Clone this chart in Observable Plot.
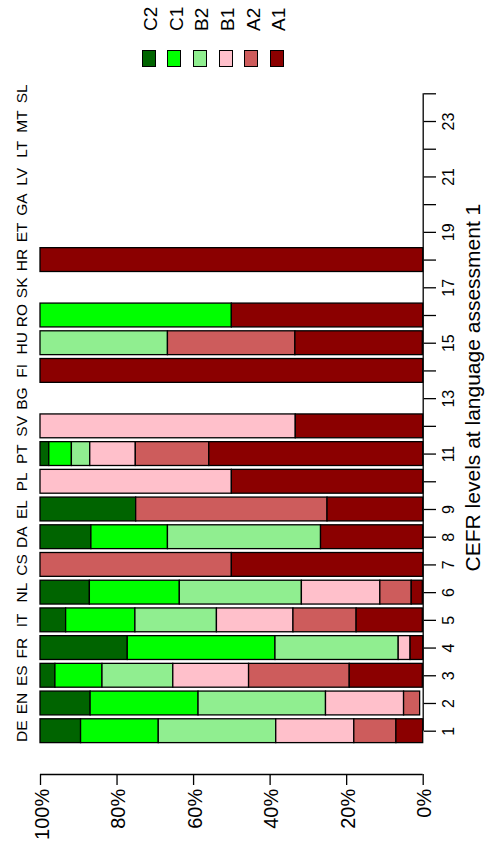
<!DOCTYPE html>
<html><head><meta charset="utf-8">
<script src="https://cdn.jsdelivr.net/npm/d3@7"></script>
<script src="https://cdn.jsdelivr.net/npm/@observablehq/plot@0.6"></script>
<style>
html,body{margin:0;padding:0;background:#fff;}
#legend{position:relative;width:491px;height:75px;font-family:"Liberation Sans",Arial,sans-serif;color:#000;}
#chart svg{display:block;}
</style></head><body>
<div id="legend"></div>
<div id="chart"></div>
<script>
const countries = ["DE","EN","ES","FR","IT","NL","CS","DA","EL","PL","PT","SV","BG","FI","HU","RO","SK","HR","ET","GA","LV","LT","MT","SL"];
const levels = ["C2","C1","B2","B1","A2","A1"];
const levelColors = ["#006400","#00FF00","#90EE90","#FFC0CB","#CD5C5C","#8B0000"];
// percentages per level, in country order
const C2 = [10.6,13.1,3.9,22.8,6.7,12.9,0,13.3,25,0,2.3,0,0,0,0,0,0,0,0,0,0,0,0,0];
const C1 = [20.3,28.2,12.3,38.6,18.1,23.5,0,20,0,0,5.9,0,0,0,0,50,0,0,0,0,0,0,0,0];
const B2 = [30.7,33.3,18.5,32.2,21.3,31.9,0,40,0,0,4.8,0,0,0,33.3,0,0,0,0,0,0,0,0,0];
const B1 = [20.4,20.4,19.8,3.1,20.0,20.5,0,0,0,50,11.9,66.7,0,0,0,0,0,0,0,0,0,0,0,0];
const A2 = [11.0,4.2,26.3,0,16.5,8.2,50,0,50,0,19.2,0,0,0,33.3,0,0,0,0,0,0,0,0,0];
const A1 = [7.0,0,19.1,3.3,17.3,2.9,50,26.7,25,50,55.9,33.3,0,100,33.3,50,0,100,0,0,0,0,0,0];
const pctTicks = [0,20,40,60,80,100];
const catTicks = d3.range(1,25);
const catLabels = [1,2,3,4,5,6,7,8,9,11,13,15,17,19,21,23];
const axisTitle = "CEFR levels at language assessment 1";

const series = {C2, C1, B2, B1, A2, A1};
const segments = [];
countries.forEach((c, i) => {
  let cum = 0;
  levels.forEach(lv => {
    const v = series[lv][i];
    if (v > 0) segments.push({country: c, k: i + 1, level: lv, x1: 100 - cum, x2: 100 - cum - v});
    cum += v;
  });
});

// Legend (HTML, above the SVG)
const legendEl = document.getElementById("legend");
levels.forEach((lv, i) => {
  const cx = 148.7 + i * 25.6;
  const sw = document.createElement("div");
  sw.style.cssText = `position:absolute;left:${cx - 7}px;top:50px;width:14px;height:16.5px;box-sizing:border-box;border:1.5px solid #000;background:${levelColors[i]};`;
  legendEl.appendChild(sw);
  const lab = document.createElement("div");
  lab.textContent = lv;
  lab.style.cssText = `position:absolute;left:${cx + 1.4}px;top:31px;font-size:19px;line-height:19px;white-space:nowrap;transform-origin:0 0;transform:rotate(-90deg) translate(0,-50%);`;
  legendEl.appendChild(lab);
});

const AXIS_BASE = -0.5626;
const font = "'Liberation Sans', Arial, Helvetica, sans-serif";
const chart = Plot.plot({
  width: 491, height: 770,
  marginLeft: 40, marginRight: 68.3, marginTop: 18.3, marginBottom: 71,
  x: {domain: [0, 100], reverse: true, label: null},
  y: {domain: [AXIS_BASE, 24], label: null},
  color: {domain: levels, range: levelColors},
  style: {fontFamily: font, fontSize: "16px", background: "white", color: "black"},
  marks: [
    Plot.rect(segments, {x1: "x1", x2: "x2", y1: d => d.k - 0.43, y2: d => d.k + 0.43, fill: "level", stroke: "black", strokeWidth: 1.3}),
    Plot.ruleY([AXIS_BASE], {x1: 0, x2: 100, stroke: "black", strokeWidth: 1.3}),
    Plot.axisX({ticks: pctTicks, tickSize: 11, tickFormat: () => "", strokeWidth: 1.3, label: null}),
    Plot.text(pctTicks, {x: d => d, y: AXIS_BASE, text: d => d + "%", rotate: -90, textAnchor: "end", lineAnchor: "middle", dy: 14.3, dx: 1.7, fontSize: 20, fill: "black"}),
    Plot.ruleX([0], {y1: 1, y2: 24, stroke: "black", strokeWidth: 1.3}),
    Plot.axisY({anchor: "right", ticks: catTicks, tickSize: 12.3, tickFormat: () => "", strokeWidth: 1.3, label: null}),
    Plot.text(catLabels, {x: 0, y: d => d, text: d => String(d), rotate: -90, textAnchor: "middle", lineAnchor: "middle", dx: 25.5, fontSize: 16, fill: "black"}),
    Plot.text(countries, {x: 100, y: (d, i) => i + 1, text: d => d, rotate: -90, textAnchor: "middle", lineAnchor: "middle", dx: -18.3, fontSize: 15.5, fill: "black"}),
    Plot.text([axisTitle], {frameAnchor: "right", text: d => d, rotate: -90, textAnchor: "middle", lineAnchor: "middle", dx: 50.3, dy: -46.6, fontSize: 21, fill: "black"})
  ]
});
document.getElementById("chart").appendChild(chart);
</script>
</body></html>
